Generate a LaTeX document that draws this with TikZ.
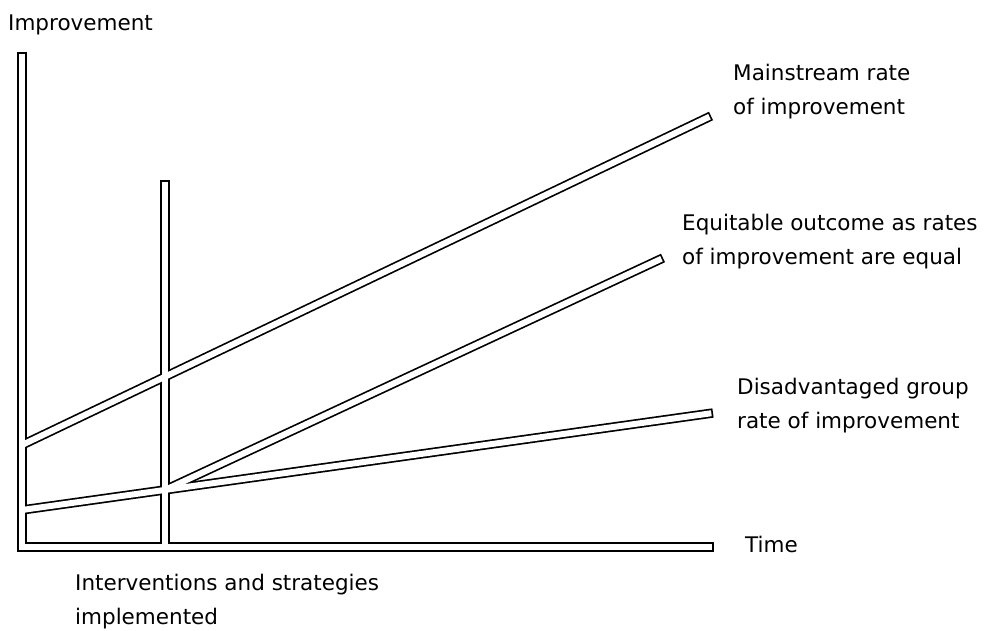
\documentclass[tikz,border=0pt]{standalone}
\usepackage{fontspec}
\setmainfont{DejaVu Sans}
\usetikzlibrary{positioning}

\begin{document}
\begin{tikzpicture}
[x=1pt,y=-1pt,
 bar/.style={draw=black,line width=9.4pt},
 hollow/.style={draw=white,line width=6pt},
 shut/.style={shorten >=1.7pt},
 lab/.style={anchor=base west,inner sep=0pt,align=left,
   font=\fontsize{21.5}{34}\selectfont}]
  \useasboundingbox (0,0) rectangle (988,631);

  \coordinate (ytop) at (22,52);
  \coordinate (o)    at (22,547);
  \coordinate (xend) at (714,547);
  \coordinate (vtop) at (165,180);
  \coordinate (vbot) at (165,547);
  \coordinate (ms0)  at (22,445);
  \coordinate (ms1)  at (711,116);
  \coordinate (dg0)  at (22,510);
  \coordinate (dg1)  at (713,413);
  \coordinate (eq0)  at (165,490);
  \coordinate (eq1)  at (663,258);

  % outlines first, then the white inside
  \draw[bar,line join=miter] (ytop) -- (o) -- (xend);
  \draw[bar] (vtop) -- (vbot);
  \draw[bar] (ms0) -- (ms1);
  \draw[bar] (dg0) -- (dg1);
  \draw[bar] (eq0) -- (eq1);

  \draw[hollow,shut,shorten <=1.7pt] (ytop) -- (o) -- (xend);
  \draw[hollow,shorten <=1.7pt] (vtop) -- (vbot);
  \draw[hollow,shut] (ms0) -- (ms1);
  \draw[hollow,shut] (dg0) -- (dg1);
  \draw[hollow,shut] (eq0) -- (eq1);

  % base of a two-line label is its last line
  \node[lab] (ylab)  at (8,31)    {Improvement};
  \node[lab] (mslab) at (733,115) {Mainstream rate\\of improvement};
  \node[lab] (eqlab) at (682,265) {Equitable outcome as rates\\of improvement are equal};
  \node[lab] (dglab) at (737,428) {Disadvantaged group\\rate of improvement};
  \node[lab] (tlab)  at (745,552) {Time};
  \node[lab] (ivlab) at (75,624)  {Interventions and strategies\\implemented};
\end{tikzpicture}
\end{document}
